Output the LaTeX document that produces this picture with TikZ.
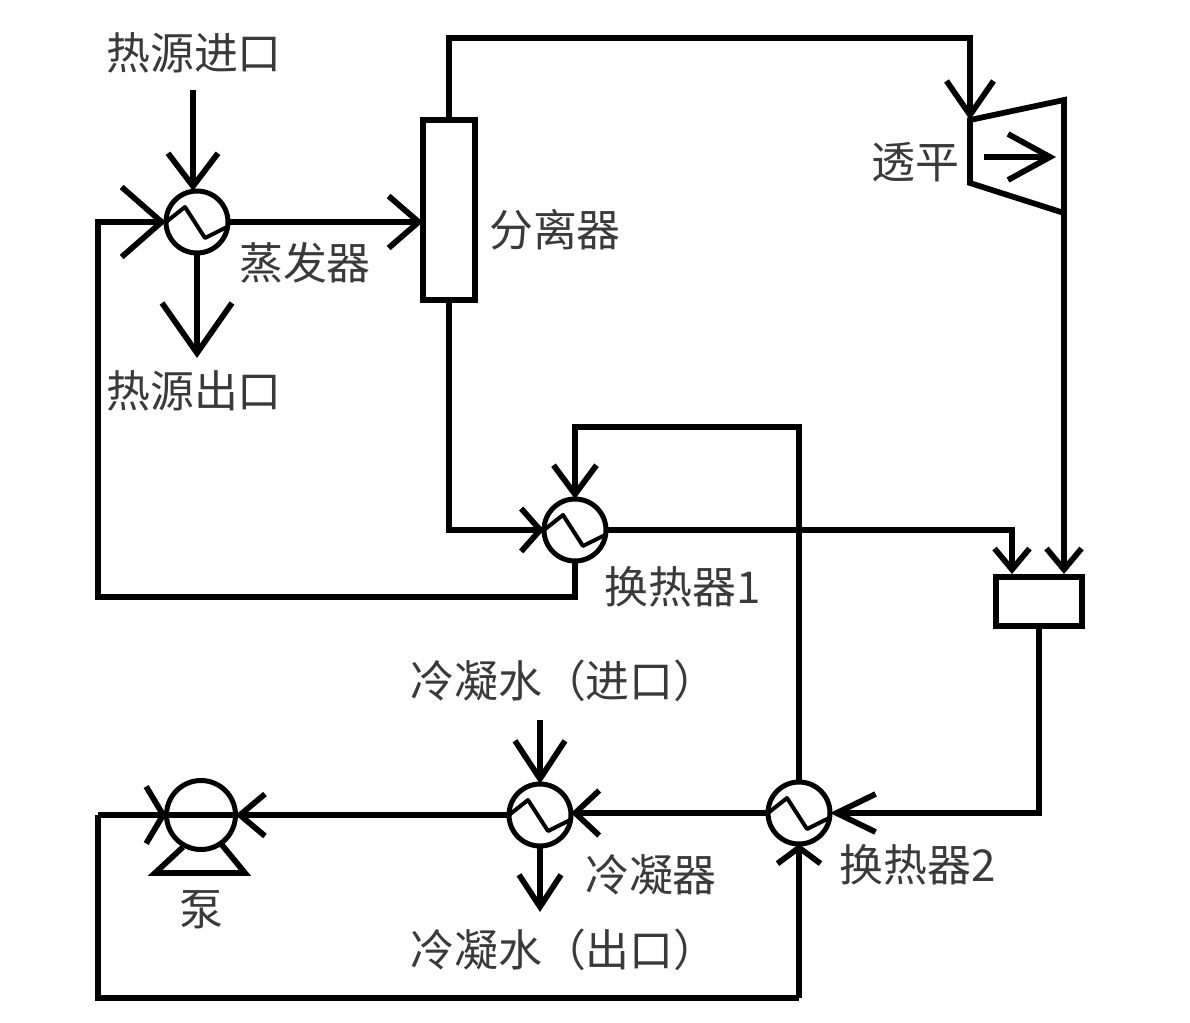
\documentclass[tikz,border=0pt]{standalone}
\usepackage{fontspec}
\setmainfont{Noto Sans CJK SC}
\usetikzlibrary{arrows.meta, calc}
\definecolor{LabelGray}{HTML}{3A3A3A}

\begin{document}
\begin{tikzpicture}[
    x=0.02cm,
    y=-0.02cm,
    line width=0.115cm,
    flow/.style 2 args={
        -{Straight Barb[length=#1,width=#2,line width=0.115cm]}
    },
    hx/.style={
        circle,
        draw,
        line width=0.1cm,
        minimum size=1.24cm,
        inner sep=0pt,
        outer sep=0pt,
        path picture={
            \draw[line width=0.08cm, line join=round]
                ($(path picture bounding box.center)+(-0.62cm,0)$)
                -- ++(0.38cm,0.3cm) -- ++(0.4cm,-0.62cm) -- ++(0.44cm,0.22cm);
        }
    },
    vessel/.style={
        rectangle,
        draw,
        line width=0.12cm,
        inner sep=0pt,
        outer sep=0pt
    },
    tag/.style={
        font=\fontsize{25pt}{26pt}\selectfont,
        text=LabelGray,
        inner sep=0pt
    }
]
\useasboundingbox (0,0) rectangle (1190,1022);

% equipment
\node[hx] (evap) at (197,222) {};
\node[hx] (hxa) at (575,530) {};
\node[hx] (hxb) at (799,813) {};
\node[hx] (cond) at (540,815) {};
\node[vessel, minimum width=1.04cm, minimum height=3.6cm] (sep) at (449,210) {};
\node[vessel, minimum width=1.72cm, minimum height=0.98cm] (mix) at (1039,601) {};
\node[circle, draw, line width=0.1cm, minimum size=1.38cm, inner sep=0pt, outer sep=0pt] (pump) at (201,815) {};

% pump base
\coordinate (baseL) at (155,873);
\coordinate (baseR) at (245,873);
\draw (183,847) -- (baseL) -- (baseR) -- (222,845);

% turbine
\coordinate (turbA) at (970,120);
\coordinate (turbB) at (1064,100);
\coordinate (turbC) at (1064,213);
\coordinate (turbD) at (970,183);
\draw (turbA) -- (turbB) -- (turbC) -- (turbD) -- cycle;
\coordinate (turbS) at (984,157);
\coordinate (turbE) at (1056,157);
\draw[flow={0.84cm}{0.92cm}] (turbS) -- (turbE);

% labels
\node[tag] (srcIn) at (194,53) {热源进口};
\node[tag] (srcOut) at (194,391) {热源出口};
\node[tag] (evapL) at (305,263) {蒸发器};
\node[tag] (sepL) at (555,230) {分离器};
\node[tag] (turbL) at (915,162) {透平};
\node[tag] (hxaL) at (683,587) {换热器1};
\node[tag] (hxbL) at (918,865) {换热器2};
\node[tag] (cwIn) at (564,681) {冷凝水（进口）};
\node[tag] (cwOut) at (564,950) {冷凝水（出口）};
\node[tag] (condL) at (651,875) {冷凝器};
\node[tag] (pumpL) at (201,910) {泵};

% free ends
\coordinate (evapTop) at (193,90);
\coordinate (evapEnd) at (197,358);
\coordinate (cwTop) at (540,720);
\coordinate (cwEnd) at (540,912);
\coordinate (mixInA) at (1012,574);
\coordinate (mixInB) at (1064,574);

% heat source and cooling water
\draw[flow={0.66cm}{1cm}] (evapTop) -- (evapTop |- evap.north);
\draw[flow={1cm}{1.4cm}] (evap.south) -- (evapEnd);
\draw[flow={0.76cm}{1cm}] (cwTop) -- (cond.north);
\draw[flow={0.64cm}{0.84cm}] (cond.south) -- (cwEnd);

% main loop
\draw[flow={0.6cm}{1.04cm}] (evap.east) -- (sep.west |- evap.east);
\draw[flow={0.68cm}{0.94cm}] (sep.north) |- (970,38) -- (turbA);
\draw[flow={0.42cm}{0.7cm}] (turbC) -- (mixInB);
\draw[flow={0.38cm}{0.86cm}] (sep.south) |- (hxa.west);
\draw[flow={0.42cm}{0.7cm}] (hxa.east) -| (mixInA);
\draw[flow={0.58cm}{0.86cm}] (hxb.north) |- (575,427) -- (hxa.north);
\draw[flow={0.8cm}{1.4cm}] (hxa.south) |- (98,597) |- (evap.west);
\draw[flow={0.78cm}{0.76cm}] (mix.south) |- (hxb.east);
\draw[flow={0.48cm}{0.9cm}] (hxb.west) -- (hxb.west -| cond.east);
\draw[flow={0.5cm}{0.84cm}] (cond.west) -- (pump.east);
\draw (pump.east) -- (pump.west);
\coordinate (pumpIn) at (98,815);
\draw[flow={0.34cm}{1.14cm}] (pumpIn) -- (pump.west);
\coordinate (loopEnd) at (hxb.south |- 0,998);
\draw (pumpIn) |- (loopEnd);
\draw[flow={0.32cm}{0.86cm}] (loopEnd) -- (hxb.south);
\end{tikzpicture}
\end{document}
